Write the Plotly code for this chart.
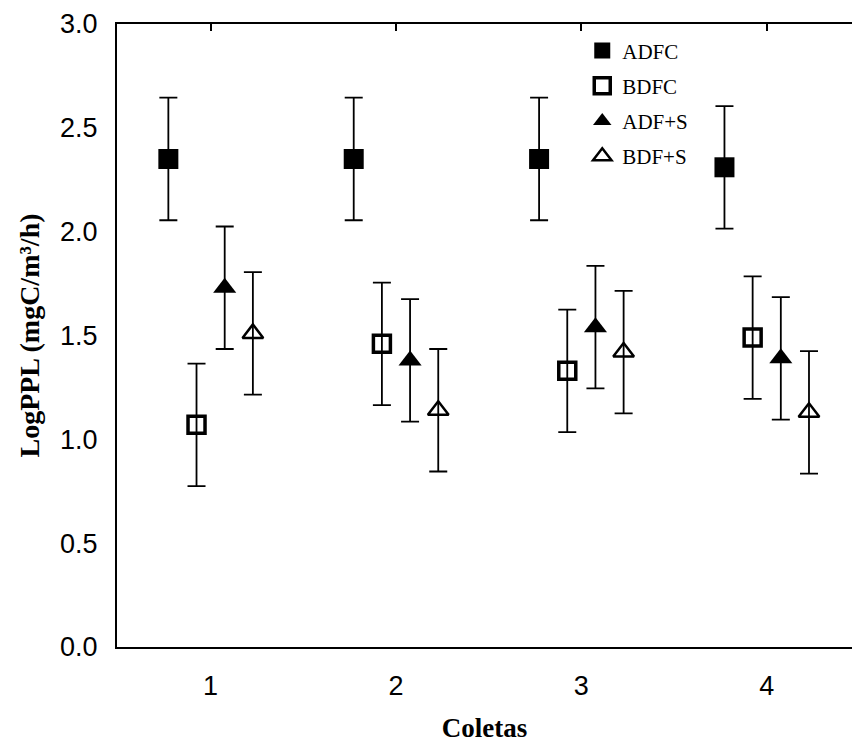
import plotly.graph_objects as go

coletas = [1, 2, 3, 4]
tick_labels = ["1", "2", "3", "4"]
series = ["ADFC", "BDFC", "ADF+S", "BDF+S"]
adfc = [2.35, 2.35, 2.35, 2.31]
bdfc = [1.07, 1.46, 1.33, 1.49]
adf_s = [1.73, 1.38, 1.54, 1.39]
bdf_s = [1.51, 1.14, 1.42, 1.13]
adfc_err = [0.295, 0.295, 0.295, 0.295]
bdfc_err = [0.295, 0.295, 0.295, 0.295]
adf_s_err = [0.295, 0.295, 0.295, 0.295]
bdf_s_err = [0.295, 0.295, 0.295, 0.295]

values = [adfc, bdfc, adf_s, bdf_s]
errors = [adfc_err, bdfc_err, adf_s_err, bdf_s_err]
offsets = [-0.228, -0.076, 0.076, 0.228]
symbols = ["square", "square-open", "triangle-up", "triangle-up-open"]
sizes = [20, 17, 20, 18]
line_w = [0, 3.5, 0, 2.5]

fig = go.Figure()
for i, name in enumerate(series):
    fig.add_trace(go.Scatter(
        x=[c + offsets[i] for c in coletas],
        y=values[i],
        mode="markers",
        name=name,
        legendgroup=name,
        marker=dict(symbol=symbols[i], size=sizes[i], color="black",
                    line=dict(color="black", width=line_w[i])),
        error_y=dict(type="data", array=errors[i], visible=True,
                     color="black", thickness=1.8, width=9),
    ))

# invisible trace to drive the top axis ticks
fig.add_trace(go.Scatter(x=coletas, y=[None]*4, xaxis="x2", showlegend=False,
                         hoverinfo="skip", mode="markers"))

fig.update_layout(
    width=852, height=749,
    margin=dict(l=117, r=0, t=24, b=102),
    paper_bgcolor="white", plot_bgcolor="white",
    showlegend=True,
    legend=dict(x=0.633, y=0.99, xanchor="left", yanchor="top",
                font=dict(family="Liberation Serif", size=21, color="black"),
                bgcolor="rgba(0,0,0,0)", traceorder="grouped", tracegroupgap=5),
    xaxis=dict(range=[0.495, 4.46], tickvals=coletas, ticktext=tick_labels,
               showgrid=False, zeroline=False, ticks="", showline=True,
               linecolor="black", linewidth=2, ticklabelstandoff=14,
               tickfont=dict(family="Liberation Sans", size=27, color="black"),
               title=dict(text="<b>Coletas</b>", standoff=18,
                          font=dict(family="Liberation Serif", size=27, color="black"))),
    xaxis2=dict(overlaying="x", side="top", matches="x", tickvals=coletas,
                showticklabels=False, ticks="inside", ticklen=7, tickwidth=2,
                tickcolor="black", showline=True, linecolor="black", linewidth=2,
                showgrid=False, zeroline=False),
    yaxis=dict(range=[0, 3], tickvals=[0, 0.5, 1.0, 1.5, 2.0, 2.5, 3.0],
               tickformat=".1f", showgrid=False, zeroline=False, ticks="",
               showline=True, linecolor="black", linewidth=2, ticklabelstandoff=12,
               tickfont=dict(family="Liberation Sans", size=27, color="black"),
               title=dict(text="<b>LogPPL (mgC/m³/h)</b>", standoff=12,
                          font=dict(family="Liberation Serif", size=28, color="black"))),
)

fig.write_html("out.html")
